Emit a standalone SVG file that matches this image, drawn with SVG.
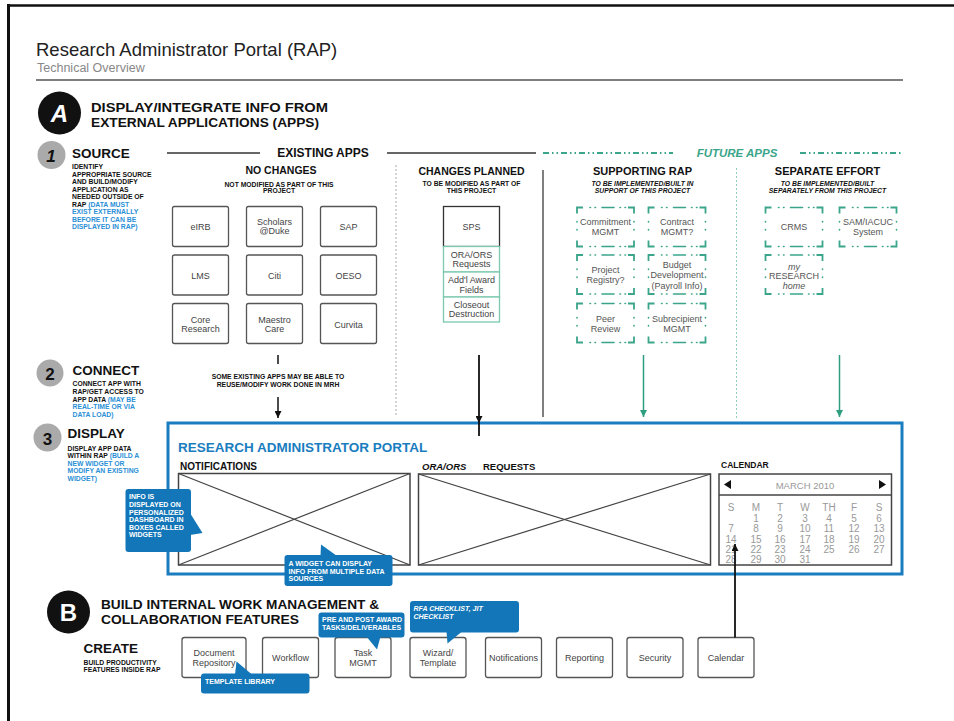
<svg xmlns="http://www.w3.org/2000/svg" width="954" height="721" viewBox="0 0 954 721">
<style>
text{font-family:"Liberation Sans",Arial,sans-serif}
.c{font-weight:bold;fill:#111}
.ci{font-weight:bold;font-style:italic;fill:#111}
.bl{fill:#2a8fd6}
.box{fill:#fff;stroke:#555;stroke-width:1.3}
.bt{font-size:9px;fill:#444;text-anchor:middle}
.sub{fill:#fff;stroke:#7cc8b0;stroke-width:1.3}
.fbc{fill:none;stroke:#3aa58a;stroke-width:1.8}
.fbd{fill:none;stroke:#3aa58a;stroke-width:1.6;stroke-linecap:round}
.ft{font-size:9px;fill:#555;text-anchor:middle}
.call{fill:#1276b8}
.ct{font-size:7px;font-weight:bold;fill:#fff}
.cal{font-size:10px;fill:#999;text-anchor:middle}
.wid{fill:#fff;stroke:#444;stroke-width:1.5}
.x{stroke:#444;stroke-width:1.2}
.gdash{stroke:#3aa58a;stroke-width:1.8;stroke-dasharray:6 3 1.5 3 1.5 3;fill:none}
</style>
<defs>
<g id="fb">
<path class="fbc" d="M0,6V0H6 M51,0H57V6 M57,33V39H51 M6,39H0V33"/>
<path class="fbd" d="M13,0h0.5 M18,0h0.5 M25,0h12 M43,0h0.5 M48,0h0.5 M13,39h0.5 M18,39h0.5 M25,39h12 M43,39h0.5 M48,39h0.5 M0,14v0.5 M0,22v0.5 M57,14v0.5 M57,22v0.5"/>
</g>
<marker id="ab" viewBox="0 0 10 10" refX="10" refY="5" markerWidth="7" markerHeight="7" markerUnits="userSpaceOnUse" orient="auto"><path d="M0,0L10,5L0,10Z" fill="#111"/></marker>
<marker id="ag" viewBox="0 0 10 10" refX="10" refY="5" markerWidth="7" markerHeight="7" markerUnits="userSpaceOnUse" orient="auto"><path d="M0,0L10,5L0,10Z" fill="#2e9e80"/></marker>
</defs>
<rect width="954" height="721" fill="#fff"/>
<!-- frame -->
<line x1="7" y1="5.5" x2="954" y2="5.5" stroke="#111" stroke-width="2.5"/>
<line x1="8.5" y1="4" x2="8.5" y2="721" stroke="#111" stroke-width="3"/>

<!-- title -->
<g id="title">
<text x="36" y="56" font-size="18.5" fill="#222">Research Administrator Portal (RAP)</text>
<text x="37" y="71.5" font-size="12.5" fill="#888">Technical Overview</text>
<line x1="36" y1="80" x2="903" y2="80" stroke="#555" stroke-width="1.5"/>
</g>

<!-- section A -->
<g id="sectionA">
<circle cx="59.5" cy="113" r="21.5" fill="#111"/>
<text x="59.5" y="121.5" font-size="24" font-weight="bold" font-style="italic" fill="#fff" text-anchor="middle">A</text>
<text font-size="13.5" class="c"><tspan x="91" y="111.5" textLength="237" lengthAdjust="spacingAndGlyphs">DISPLAY/INTEGRATE INFO FROM</tspan><tspan x="91" y="127" textLength="228" lengthAdjust="spacingAndGlyphs">EXTERNAL APPLICATIONS (APPS)</tspan></text>
</g>

<g id="step1">
<circle cx="51.5" cy="155" r="14" fill="#aaa"/>
<text x="51" y="162" font-size="17" class="ci" text-anchor="middle">1</text>
<text x="72" y="158" font-size="13.5" class="c">SOURCE</text>
<text font-size="6.8" class="c">
<tspan x="72" y="169">IDENTIFY</tspan>
<tspan x="72" y="176.5">APPROPRIATE SOURCE</tspan>
<tspan x="72" y="184">AND  BUILD/MODIFY</tspan>
<tspan x="72" y="191.5">APPLICATION AS</tspan>
<tspan x="72" y="199">NEEDED OUTSIDE OF</tspan>
<tspan x="72" y="206.5">RAP </tspan><tspan class="bl">(DATA MUST</tspan>
<tspan x="72" y="214" class="bl">EXIST EXTERNALLY</tspan>
<tspan x="72" y="221.5" class="bl">BEFORE IT CAN BE</tspan>
<tspan x="72" y="229" class="bl">DISPLAYED IN RAP)</tspan>
</text>
</g>

<g id="step2">
<circle cx="50" cy="373" r="13.5" fill="#aaa"/>
<text x="50" y="380" font-size="17" class="c" text-anchor="middle">2</text>
<text x="72.5" y="375" font-size="13.5" class="c">CONNECT</text>
<text font-size="6.8" class="c">
<tspan x="72.5" y="386">CONNECT APP WITH</tspan>
<tspan x="72.5" y="394">RAP/GET ACCESS TO</tspan>
<tspan x="72.5" y="401.5">APP DATA </tspan><tspan class="bl">(MAY BE</tspan>
<tspan x="72.5" y="409" class="bl">REAL-TIME OR VIA</tspan>
<tspan x="72.5" y="416.5" class="bl">DATA LOAD)</tspan>
</text>
</g>

<g id="step3">
<circle cx="47.5" cy="437.5" r="14" fill="#aaa"/>
<text x="47.5" y="444.5" font-size="17" class="c" text-anchor="middle">3</text>
<text x="67.5" y="438" font-size="13.5" class="c">DISPLAY</text>
<text font-size="6.8" class="c">
<tspan x="67.5" y="450.5">DISPLAY APP DATA</tspan>
<tspan x="67.5" y="458">WITHIN RAP  </tspan><tspan class="bl">(BUILD A</tspan>
<tspan x="67.5" y="465.5" class="bl">NEW WIDGET OR</tspan>
<tspan x="67.5" y="473" class="bl">MODIFY AN EXISTING</tspan>
<tspan x="67.5" y="480.5" class="bl">WIDGET)</tspan>
</text>
</g>

<!-- column headers -->
<g id="existing-apps">
<line x1="167" y1="153" x2="260" y2="153" stroke="#333" stroke-width="1.5"/>
<text x="323" y="157" font-size="12" class="c" text-anchor="middle">EXISTING APPS</text>
<line x1="387" y1="153" x2="536" y2="153" stroke="#333" stroke-width="1.5"/>
</g>
<g id="future-apps">
<line x1="543" y1="153" x2="673" y2="153" class="gdash"/>
<text x="737" y="157" font-size="11.5" font-weight="bold" font-style="italic" fill="#3aa58a" text-anchor="middle">FUTURE APPS</text>
<line x1="800" y1="153" x2="903" y2="153" class="gdash"/>
</g>

<g id="no-changes">
<text x="281" y="174" font-size="10.5" class="c" text-anchor="middle">NO CHANGES</text>
<text font-size="6.8" class="c" text-anchor="middle"><tspan x="279" y="186.5">NOT MODIFIED AS PART OF THIS</tspan><tspan x="279" y="193">PROJECT</tspan></text>
</g>
<g id="changes-planned">
<text x="471.5" y="175" font-size="10.5" class="c" text-anchor="middle">CHANGES PLANNED</text>
<text font-size="6.8" class="c" text-anchor="middle"><tspan x="471.5" y="185.5">TO BE MODIFIED AS PART OF</tspan><tspan x="471.5" y="192.5">THIS PROJECT</tspan></text>
</g>
<g id="supporting-rap">
<text x="642.5" y="175" font-size="11" class="c" text-anchor="middle">SUPPORTING RAP</text>
<text font-size="6.8" class="ci" text-anchor="middle"><tspan x="642.5" y="185.5">TO BE IMPLEMENTED/BUILT IN</tspan><tspan x="642.5" y="193">SUPPORT OF THIS PROJECT</tspan></text>
</g>
<g id="separate-effort">
<text x="827.5" y="175" font-size="11" class="c" text-anchor="middle">SEPARATE EFFORT</text>
<text font-size="6.8" class="ci" text-anchor="middle"><tspan x="827.5" y="185.5">TO BE IMPLEMENTED/BUILT</tspan><tspan x="827.5" y="193">SEPARATELY FROM THIS PROJECT</tspan></text>
</g>

<!-- dividers -->
<line x1="396" y1="165" x2="396" y2="416" stroke="#aaa" stroke-width="1" stroke-dasharray="2 2"/>
<line x1="543" y1="170" x2="543" y2="417" stroke="#555" stroke-width="1.5"/>
<line x1="736.5" y1="168" x2="736.5" y2="418" stroke="#8fd0bc" stroke-width="1" stroke-dasharray="2 2"/>

<!-- existing app nodes -->
<g id="eirb"><rect class="box" x="172.5" y="206.5" width="56" height="40" rx="2"/><text class="bt" x="200.5" y="229.5">eIRB</text></g>
<g id="scholars"><rect class="box" x="246.5" y="206.5" width="56" height="40" rx="2"/><text class="bt"><tspan x="274.5" y="225">Scholars</tspan><tspan x="274.5" y="234">@Duke</tspan></text></g>
<g id="sap"><rect class="box" x="320.5" y="206.5" width="56" height="40" rx="2"/><text class="bt" x="348.5" y="229.5">SAP</text></g>
<g id="lms"><rect class="box" x="172.5" y="255" width="56" height="40" rx="2"/><text class="bt" x="200.5" y="278.5">LMS</text></g>
<g id="citi"><rect class="box" x="246.5" y="255" width="56" height="40" rx="2"/><text class="bt" x="274.5" y="278.5">Citi</text></g>
<g id="oeso"><rect class="box" x="320.5" y="255" width="56" height="40" rx="2"/><text class="bt" x="348.5" y="278.5">OESO</text></g>
<g id="core-research"><rect class="box" x="172.5" y="303.5" width="56" height="40" rx="2"/><text class="bt"><tspan x="200.5" y="322.5">Core</tspan><tspan x="200.5" y="332">Research</tspan></text></g>
<g id="maestro-care"><rect class="box" x="246.5" y="303.5" width="56" height="40" rx="2"/><text class="bt"><tspan x="274.5" y="322.5">Maestro</tspan><tspan x="274.5" y="332">Care</tspan></text></g>
<g id="curvita"><rect class="box" x="320.5" y="303.5" width="56" height="40" rx="2"/><text class="bt" x="348.5" y="328">Curvita</text></g>

<!-- changes planned stack -->
<g id="sps"><rect x="443.5" y="206.5" width="56" height="40" fill="#fff" stroke="#333" stroke-width="1.3"/><text class="bt" x="471.5" y="229.5">SPS</text></g>
<g id="ora-ors-requests"><rect class="sub" x="443.5" y="246.5" width="56" height="25.5"/><text class="bt"><tspan x="471.5" y="257.5">ORA/ORS</tspan><tspan x="471.5" y="267">Requests</tspan></text></g>
<g id="addl-award-fields"><rect class="sub" x="443.5" y="272" width="56" height="25"/><text class="bt"><tspan x="471.5" y="282.5">Add'l Award</tspan><tspan x="471.5" y="292.5">Fields</tspan></text></g>
<g id="closeout-destruction"><rect class="sub" x="443.5" y="297" width="56" height="25"/><text class="bt"><tspan x="471.5" y="307.5">Closeout</tspan><tspan x="471.5" y="317">Destruction</tspan></text></g>

<!-- future app nodes -->
<g id="commitment-mgmt"><use href="#fb" x="577" y="207.5"/><text class="ft"><tspan x="605.5" y="225">Commitment</tspan><tspan x="605.5" y="235">MGMT</tspan></text></g>
<g id="contract-mgmt"><use href="#fb" x="648.5" y="207.5"/><text class="ft"><tspan x="677" y="225">Contract</tspan><tspan x="677" y="235">MGMT?</tspan></text></g>
<g id="project-registry"><use href="#fb" x="577" y="255"/><text class="ft"><tspan x="605.5" y="273">Project</tspan><tspan x="605.5" y="283">Registry?</tspan></text></g>
<g id="budget-development"><use href="#fb" x="648.5" y="255"/><text class="ft"><tspan x="677" y="268">Budget</tspan><tspan x="677" y="278">Development</tspan><tspan x="677" y="288.5">(Payroll Info)</tspan></text></g>
<g id="peer-review"><use href="#fb" x="577" y="303.5"/><text class="ft"><tspan x="605.5" y="321.5">Peer</tspan><tspan x="605.5" y="331.5">Review</tspan></text></g>
<g id="subrecipient-mgmt"><use href="#fb" x="648.5" y="303.5"/><text class="ft"><tspan x="677" y="321.5">Subrecipient</tspan><tspan x="677" y="331.5">MGMT</tspan></text></g>
<g id="crms"><use href="#fb" x="765.5" y="207.5"/><text class="ft" x="794" y="230">CRMS</text></g>
<g id="sam-iacuc"><use href="#fb" x="839.5" y="207.5"/><text class="ft"><tspan x="868" y="225">SAM/IACUC</tspan><tspan x="868" y="235">System</tspan></text></g>
<g id="my-research-home"><use href="#fb" x="765.5" y="255"/><text class="ft"><tspan x="794" y="269.5" font-style="italic">my</tspan><tspan x="794" y="279">RESEARCH</tspan><tspan x="794" y="288.5" font-style="italic">home</tspan></text></g>

<!-- connector note -->
<g id="reuse-note">
<text font-size="6.8" class="c" text-anchor="middle"><tspan x="278" y="379">SOME EXISTING APPS MAY BE ABLE TO</tspan><tspan x="278" y="387">REUSE/MODIFY WORK DONE IN MRH</tspan></text>
</g>

<!-- portal -->
<g id="portal">
<rect x="168" y="423" width="734" height="151" fill="none" stroke="#1a7dc0" stroke-width="3"/>
<text x="178" y="452" font-size="13.5" font-weight="bold" fill="#1a7dc0">RESEARCH ADMINISTRATOR PORTAL</text>
</g>
<g id="notifications-widget">
<text x="180" y="469.5" font-size="10" class="c">NOTIFICATIONS</text>
<rect class="wid" x="178.5" y="473.5" width="231.5" height="91.5"/>
<line class="x" x1="178.5" y1="473.5" x2="410" y2="565"/>
<line class="x" x1="178.5" y1="565" x2="410" y2="473.5"/>
</g>
<g id="ora-ors-widget">
<text x="422" y="469.5" font-size="9.5" class="ci">ORA/ORS</text>
<text x="483" y="469.5" font-size="9.5" class="c">REQUESTS</text>
<rect class="wid" x="418.5" y="474" width="292" height="91"/>
<line class="x" x1="418.5" y1="474" x2="710.5" y2="565"/>
<line class="x" x1="418.5" y1="565" x2="710.5" y2="474"/>
</g>
<g id="calendar-widget">
<text x="721" y="467.5" font-size="8.5" class="c">CALENDAR</text>
<rect class="wid" x="719" y="474" width="172.5" height="91"/>
<line x1="719" y1="495" x2="891.5" y2="495" stroke="#444" stroke-width="1.5"/>
<path d="M724,484.5L731,480V489Z" fill="#111"/>
<path d="M886,484.5L879,480V489Z" fill="#111"/>
<text x="805" y="488.5" font-size="9.5" fill="#999" text-anchor="middle">MARCH 2010</text>
<g class="cal">
<text x="731" y="511">S</text><text x="756" y="511">M</text><text x="780" y="511">T</text><text x="805" y="511">W</text><text x="829" y="511">TH</text><text x="854" y="511">F</text><text x="879" y="511">S</text>
<text x="756" y="522">1</text><text x="780" y="522">2</text><text x="805" y="522">3</text><text x="829" y="522">4</text><text x="854" y="522">5</text><text x="879" y="522">6</text>
<text x="731" y="532">7</text><text x="756" y="532">8</text><text x="780" y="532">9</text><text x="805" y="532">10</text><text x="829" y="532">11</text><text x="854" y="532">12</text><text x="879" y="532">13</text>
<text x="731" y="543">14</text><text x="756" y="543">15</text><text x="780" y="543">16</text><text x="805" y="543">17</text><text x="829" y="543">18</text><text x="854" y="543">19</text><text x="879" y="543">20</text>
<text x="731" y="553">21</text><text x="756" y="553">22</text><text x="780" y="553">23</text><text x="805" y="553">24</text><text x="829" y="553">25</text><text x="854" y="553">26</text><text x="879" y="553">27</text>
<text x="731" y="563">28</text><text x="756" y="563">29</text><text x="780" y="563">30</text><text x="805" y="563">31</text>
</g>
</g>

<!-- callouts in portal -->
<g id="callout-info">
<rect class="call" x="125.5" y="489" width="65.5" height="63" rx="3"/>
<path class="call" d="M190,513L202.5,533L190,535Z"/>
<text class="ct"><tspan x="129" y="499">INFO IS</tspan><tspan x="129" y="507">DISPLAYED ON</tspan><tspan x="129" y="514.5">PERSONALIZED</tspan><tspan x="129" y="522">DASHBOARD IN</tspan><tspan x="129" y="529.5">BOXES CALLED</tspan><tspan x="129" y="537">WIDGETS</tspan></text>
</g>
<g id="callout-widget">
<rect class="call" x="284.5" y="555" width="108" height="31" rx="3"/>
<path class="call" d="M320.5,556L321,544.5L337,556Z"/>
<text class="ct"><tspan x="288.5" y="566">A WIDGET CAN DISPLAY</tspan><tspan x="288.5" y="573.5">INFO FROM MULTIPLE DATA</tspan><tspan x="288.5" y="581">SOURCES</tspan></text>
</g>

<!-- section B -->
<g id="sectionB">
<circle cx="68.5" cy="612" r="21.5" fill="#111"/>
<text x="68.5" y="620.5" font-size="24" font-weight="bold" fill="#fff" text-anchor="middle">B</text>
<text font-size="13.5" class="c"><tspan x="101" y="608.5" textLength="278" lengthAdjust="spacingAndGlyphs">BUILD INTERNAL WORK MANAGEMENT &amp;</tspan><tspan x="101" y="624" textLength="198" lengthAdjust="spacingAndGlyphs">COLLABORATION FEATURES</tspan></text>
<text x="83.5" y="653" font-size="13.5" class="c">CREATE</text>
<text font-size="6.8" class="c"><tspan x="83.5" y="665">BUILD PRODUCTIVITY</tspan><tspan x="83.5" y="672">FEATURES INSIDE RAP</tspan></text>
</g>

<g id="document-repository"><rect class="box" x="182" y="637.5" width="64" height="40" rx="2.5"/><text class="bt"><tspan x="214" y="656">Document</tspan><tspan x="214" y="666">Repository</tspan></text></g>
<g id="workflow"><rect class="box" x="262.5" y="637.5" width="56" height="40" rx="2.5"/><text class="bt" x="290.5" y="661">Workflow</text></g>
<g id="task-mgmt"><rect class="box" x="335" y="637.5" width="56" height="40" rx="2.5"/><text class="bt"><tspan x="363" y="656">Task</tspan><tspan x="363" y="666">MGMT</tspan></text></g>
<g id="wizard-template"><rect class="box" x="410" y="637.5" width="56" height="40" rx="2.5"/><text class="bt"><tspan x="438" y="656">Wizard/</tspan><tspan x="438" y="666">Template</tspan></text></g>
<g id="notifications"><rect class="box" x="485.5" y="637.5" width="56" height="40" rx="2.5"/><text class="bt" x="513.5" y="661">Notifications</text></g>
<g id="reporting"><rect class="box" x="556.5" y="637.5" width="56" height="40" rx="2.5"/><text class="bt" x="584.5" y="661">Reporting</text></g>
<g id="security"><rect class="box" x="627" y="637.5" width="56" height="40" rx="2.5"/><text class="bt" x="655" y="661">Security</text></g>
<g id="calendar"><rect class="box" x="698" y="637.5" width="56" height="40" rx="2.5"/><text class="bt" x="726" y="661">Calendar</text></g>

<!-- callouts in B -->
<g id="callout-template">
<rect class="call" x="201" y="673.5" width="108.5" height="20" rx="3"/>
<path class="call" d="M235,674.5L236.5,661.5L252,674.5Z"/>
<text class="ct" x="205" y="683.5">TEMPLATE LIBRARY</text>
</g>
<g id="callout-tasks">
<rect class="call" x="318.5" y="612.5" width="86" height="25" rx="3"/>
<path class="call" d="M366.5,636.5L377,649.5L380.5,636.5Z"/>
<text class="ct"><tspan x="322" y="622">PRE AND POST AWARD</tspan><tspan x="322" y="629.5">TASKS/DELIVERABLES</tspan></text>
</g>
<g id="callout-rfa">
<rect class="call" x="410" y="601" width="109" height="31.5" rx="3"/>
<path class="call" d="M446.5,631.5L447.5,643.5L462,631.5Z"/>
<text class="ct" font-style="italic"><tspan x="413.5" y="611">RFA CHECKLIST, JIT</tspan><tspan x="413.5" y="619">CHECKLIST</tspan></text>
</g>

<!-- connectors -->
<g id="connectors" fill="none">
<line x1="278" y1="355" x2="278" y2="364" stroke="#111" stroke-width="1.5"/>
<line x1="278" y1="397" x2="278" y2="418" stroke="#111" stroke-width="1.5" marker-end="url(#ab)"/>
<line x1="479" y1="355" x2="479" y2="423" stroke="#111" stroke-width="1.8" marker-end="url(#ab)"/>
<line x1="479" y1="423" x2="479" y2="436" stroke="#111" stroke-width="1.8"/>
<line x1="643.5" y1="355" x2="643.5" y2="417" stroke="#2e9e80" stroke-width="1.5" marker-end="url(#ag)"/>
<line x1="839.5" y1="355" x2="839.5" y2="417" stroke="#2e9e80" stroke-width="1.5" marker-end="url(#ag)"/>
<line x1="735" y1="637.5" x2="735" y2="544" stroke="#111" stroke-width="1.8" marker-end="url(#ab)"/>
</g>
</svg>
